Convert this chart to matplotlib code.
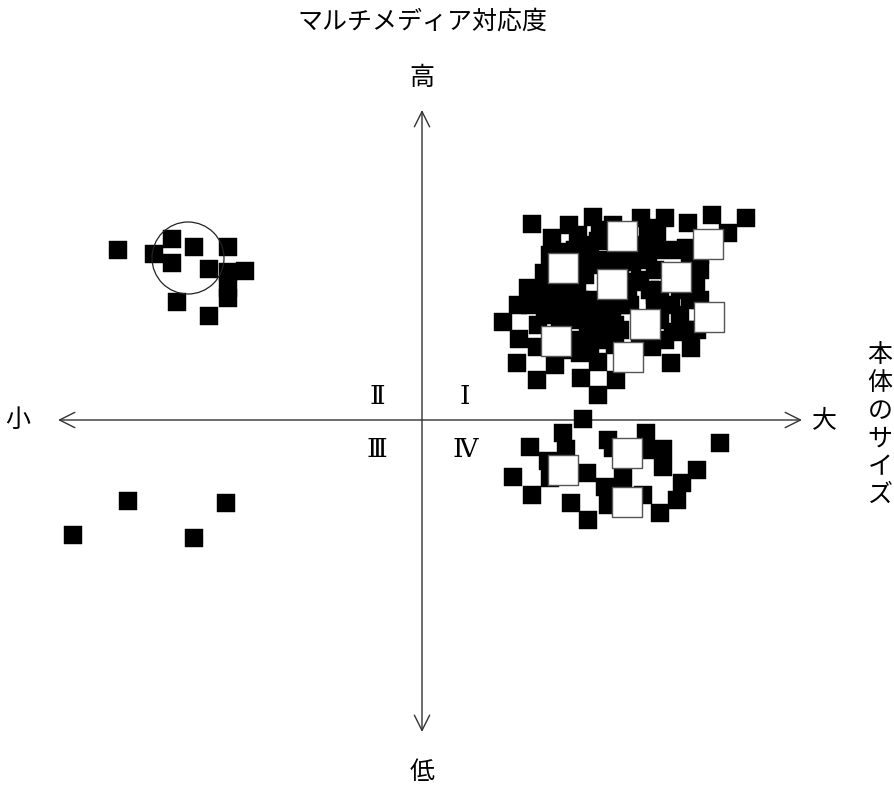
import matplotlib
matplotlib.use("Agg")
import matplotlib.pyplot as plt
from matplotlib.patches import Circle
import numpy as np

plt.rcParams['font.family'] = ['Noto Sans CJK JP', 'DejaVu Sans']

# Upper-right cluster (quadrant I) - small black squares
q1_black_x = [110, 171, 147, 156, 130, 145, 191, 122, 106, 96, 176, 166, 141, 155, 125, 140,
              219, 243, 266, 290, 324, 306, 235, 251, 264, 278, 274, 278, 208, 226, 218, 206,
              233, 168, 163, 210, 210, 233, 226, 158, 163, 166, 183, 198, 178, 193, 183, 228,
              233, 249, 258, 251, 268, 81, 97, 116, 115, 95, 115, 133, 158, 159, 176, 194,
              176, 230, 249, 269, 275, 176, 123, 178, 198, 153,
              153, 178, 138, 168, 148, 173, 190, 208, 218, 238, 243, 258, 268, 278, 233, 218,
              193, 178, 153, 138, 168, 193, 238, 153, 128, 123, 108, 143, 198, 263, 268]
q1_black_y = [196, 203, 195, 185, 182, 168, 195, 147, 132, 115, 179, 157, 128, 132, 115, 113,
              202, 202, 197, 205, 202, 187, 185, 170, 172, 150, 137, 120, 165, 160, 140, 130,
              125, 175, 145, 158, 138, 150, 192, 120, 102, 87, 115, 115, 98, 95, 80, 130,
              115, 115, 105, 88, 120, 98, 81, 95, 73, 57, 40, 55, 67, 42, 58, 40,
              25, 73, 57, 72, 90, 85, 105, 160, 155, 100,
              170, 190, 137, 120, 105, 105, 110, 115, 80, 100, 80, 130, 135, 165, 170, 175,
              160, 155, 80, 100, 70, 75, 130, 150, 165, 130, 115, 70, 90, 90, 160]
# Quadrant I - large white squares
q1_white_x = [200, 286, 141, 190, 254, 134, 223, 287, 206]
q1_white_y = [184, 176, 152, 136, 143, 79, 96, 103, 63]

# Quadrant IV cluster
q4_black_x = [161, 141, 108, 144, 126, 128, 165, 91, 110, 149, 166, 186, 191, 224, 223,
              241, 241, 275, 298, 201, 183, 186, 221, 238, 255, 260]
q4_black_y = [1, -13, -27, -29, -41, -58, -53, -57, -75, -83, -100, -20, -28, -13, -30,
              -29, -47, -50, -23, -58, -67, -85, -75, -93, -80, -63]
q4_white_x = [141, 205, 205]
q4_white_y = [-50, -33, -82]

# Quadrant II cluster
q2_black_x = [-304, -268, -250, -250, -228, -194, -213, -194, -177, -194, -194, -245, -213]
q2_black_y = [170, 166, 181, 157, 173, 173, 151, 148, 149, 132, 122, 118, 104]
q2_circle = (-234, 162, 36)

# Quadrant III points
q3_black_x = [-349, -294, -228, -196]
q3_black_y = [-115, -81, -118, -83]

quadrant_labels = ["Ⅰ", "Ⅱ", "Ⅲ", "Ⅳ"]

fig = plt.figure(figsize=(8.94, 7.85), dpi=100)
ax = fig.add_axes([0, 0, 1, 1])
ax.set_xlim(-422, 472)
ax.set_ylim(-365, 420)
ax.axis('off')

# axes with open arrowheads
arrow_kw = dict(arrowstyle='<->,head_length=1.1,head_width=0.55', color='#333333', lw=1.0,
                shrinkA=0, shrinkB=0)
ax.annotate('', xy=(380, 0), xytext=(-364, 0), arrowprops=arrow_kw)
ax.annotate('', xy=(0, 310), xytext=(0, -312), arrowprops=arrow_kw)

black_kw = dict(marker='s', s=150, c='black', edgecolors='black', linewidths=0.3, zorder=3)
white_kw = dict(marker='s', s=480, c='white', edgecolors='#555555', linewidths=1.0, zorder=4)

ax.scatter(q1_black_x, q1_black_y, **black_kw)
ax.scatter(q4_black_x, q4_black_y, **black_kw)
ax.scatter(q2_black_x, q2_black_y, **black_kw)
ax.scatter(q3_black_x, q3_black_y, **black_kw)
ax.scatter(q1_white_x, q1_white_y, **white_kw)
ax.scatter(q4_white_x, q4_white_y, **white_kw)

cx, cy, r = q2_circle
ax.add_patch(Circle((cx, cy), r, fill=False, edgecolor='#222222', lw=0.9, zorder=5))

fs = 18
ax.text(0, 398, "マルチメディア対応度", ha='center', va='center', fontsize=fs)
ax.text(0, 342, "高", ha='center', va='center', fontsize=fs)
ax.text(0, -352, "低", ha='center', va='center', fontsize=fs)
ax.text(-404, 0, "小", ha='center', va='center', fontsize=fs)
ax.text(402, 0, "大", ha='center', va='center', fontsize=fs)
ax.text(458, -5, "\n".join("本体のサイズ"), ha='center', va='center', fontsize=fs,
        linespacing=1.1)

rom = dict(ha='center', va='center', fontsize=19, family=['DejaVu Serif', 'Noto Sans CJK JP'])
ax.text(43, 24, quadrant_labels[0], **rom)
ax.text(-45, 24, quadrant_labels[1], **rom)
ax.text(-45, -29, quadrant_labels[2], **rom)
ax.text(43, -29, quadrant_labels[3], **rom)

fig.savefig("out.png", dpi=100, facecolor='white')
